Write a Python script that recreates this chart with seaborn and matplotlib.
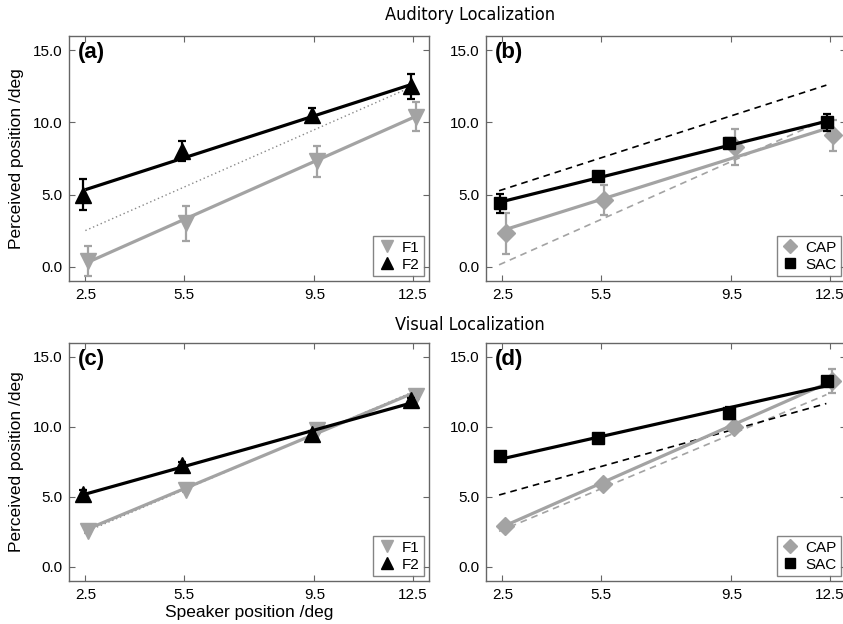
import numpy as np
import matplotlib
matplotlib.use("Agg")
import matplotlib.pyplot as plt
import seaborn as sns
from matplotlib.lines import Line2D

# Speaker positions (deg)
speaker = [2.5, 5.5, 9.5, 12.5]

# (a) Auditory localization, F1 / F2
aud_f1 = [0.4, 3.0, 7.3, 10.4]
aud_f1_err = [1.05, 1.2, 1.1, 1.0]
aud_f2 = [5.0, 8.0, 10.5, 12.5]
aud_f2_err = [1.05, 0.7, 0.5, 0.85]

# (b) Auditory localization, CAP / SAC
aud_cap = [2.3, 4.6, 8.3, 9.1]
aud_cap_err = [1.4, 1.05, 1.25, 1.05]
aud_sac = [4.4, 6.3, 8.6, 10.0]
aud_sac_err = [0.65, 0.25, 0.3, 0.6]

# (c) Visual localization, F1 / F2
vis_f1 = [2.6, 5.5, 9.8, 12.2]
vis_f1_err = [0.15, 0.15, 0.2, 0.2]
vis_f2 = [5.2, 7.3, 9.5, 11.9]
vis_f2_err = [0.3, 0.2, 0.2, 0.2]

# (d) Visual localization, CAP / SAC
vis_cap = [2.95, 5.9, 10.0, 13.3]
vis_cap_err = [0.2, 0.2, 0.3, 0.85]
vis_sac = [7.9, 9.25, 11.0, 13.3]
vis_sac_err = [0.2, 0.2, 0.4, 0.2]

x_ticks = [2.5, 5.5, 9.5, 12.5]
y_ticks = [0.0, 5.0, 10.0, 15.0]

GRAY = "#a3a3a3"
BLACK = "#000000"

sns.set_theme(style="ticks")
plt.rcParams["font.family"] = ["Liberation Sans", "DejaVu Sans"]
plt.rcParams["axes.edgecolor"] = "#666666"
plt.rcParams["axes.linewidth"] = 1.0
plt.rcParams["text.color"] = "black"
plt.rcParams["axes.labelcolor"] = "black"
plt.rcParams["xtick.labelcolor"] = "black"
plt.rcParams["ytick.labelcolor"] = "black"

fig = plt.figure(figsize=(8.43, 6.24), dpi=100)
W, H = 843, 624


def add_ax(left, top, right, bottom):
    return fig.add_axes([left / W, 1 - bottom / H, (right - left) / W, (bottom - top) / H])


ax_a = add_ax(69, 36, 429, 281)
ax_b = add_ax(486, 36, 846, 281)
ax_c = add_ax(69, 343, 429, 581)
ax_d = add_ax(486, 343, 846, 581)


def fit_line(y):
    return np.polyfit(speaker, y, 1)


def draw_series(ax, y, err, color, marker, ms, offset, z):
    xs = np.array(speaker)
    sns.regplot(x=xs, y=np.array(y), ax=ax, ci=None, scatter=False, truncate=True,
                color=color, line_kws=dict(lw=2.3, zorder=z, solid_capstyle="butt"))
    ax.errorbar(xs + offset, y, yerr=err, fmt=marker, color=color, ms=ms,
                mec=color, elinewidth=1.6, capsize=3, capthick=1.6, zorder=z + 1)


def draw_ref(ax, y, color):
    k, b = fit_line(y)
    xr = np.array([2.4, 12.4])
    sns.lineplot(x=xr, y=k * xr + b, ax=ax, color=color, lw=1.2,
                 linestyle=(0, (4, 3)), zorder=1)


def style(ax, label, handles):
    ax.set_xlim(2.0, 13.0)
    ax.set_ylim(-1.0, 16.0)
    ax.set_xticks(x_ticks)
    ax.set_xticklabels([f"{v:.1f}" for v in x_ticks])
    ax.set_yticks(y_ticks)
    ax.set_yticklabels([f"{v:.1f}" for v in y_ticks])
    ax.tick_params(direction="in", length=4, width=0.8, color="#666666",
                   top=True, right=True, labelsize=11, pad=5)
    for s in ax.spines.values():
        s.set_visible(True)
    ax.text(0.025, 0.975, label, transform=ax.transAxes, ha="left", va="top",
            fontsize=16, fontweight="bold")
    leg = ax.legend(handles=handles, loc="lower right", fontsize=11,
                    frameon=True, fancybox=False, borderaxespad=0.3,
                    handletextpad=0.4, borderpad=0.3, labelspacing=0.2,
                    handlelength=1.2)
    leg.get_frame().set_edgecolor("#666666")
    leg.get_frame().set_linewidth(1.0)


def h(marker, color, label, ms):
    return Line2D([], [], marker=marker, color=color, mec=color, ls="none", ms=ms, label=label)


f_handles = [h("v", GRAY, "F1", 9), h("^", BLACK, "F2", 9)]
c_handles = [h("D", GRAY, "CAP", 7), h("s", BLACK, "SAC", 7)]

# (a)
ax_a.plot([2.5, 12.5], [2.5, 12.5], color="#888888", lw=1.0, ls=(0, (1, 2)), zorder=1)
draw_series(ax_a, aud_f1, aud_f1_err, GRAY, "v", 11, 0.09, 2)
draw_series(ax_a, aud_f2, aud_f2_err, BLACK, "^", 11, -0.06, 4)
style(ax_a, "(a)", f_handles)
ax_a.set_ylabel("Perceived position /deg", fontsize=12.5, labelpad=6)

# (b)
draw_ref(ax_b, aud_f1, GRAY)
draw_ref(ax_b, aud_f2, BLACK)
draw_series(ax_b, aud_cap, aud_cap_err, GRAY, "D", 9, 0.1, 2)
draw_series(ax_b, aud_sac, aud_sac_err, BLACK, "s", 8, -0.08, 4)
style(ax_b, "(b)", c_handles)

# (c)
ax_c.plot([2.5, 12.5], [2.5, 12.5], color="#888888", lw=1.0, ls=(0, (1, 2)), zorder=1)
draw_series(ax_c, vis_f1, vis_f1_err, GRAY, "v", 11, 0.09, 2)
draw_series(ax_c, vis_f2, vis_f2_err, BLACK, "^", 11, -0.06, 4)
style(ax_c, "(c)", f_handles)
ax_c.set_ylabel("Perceived position /deg", fontsize=12.5, labelpad=6)
ax_c.set_xlabel("Speaker position /deg", fontsize=12.5, labelpad=2)

# (d)
draw_ref(ax_d, vis_f1, GRAY)
draw_ref(ax_d, vis_f2, BLACK)
draw_series(ax_d, vis_cap, vis_cap_err, GRAY, "D", 9, 0.07, 2)
draw_series(ax_d, vis_sac, vis_sac_err, BLACK, "s", 8, -0.08, 4)
style(ax_d, "(d)", c_handles)

for ax in (ax_b, ax_d):
    ax.set_ylabel("")

fig.text(470 / W, 1 - 15 / H, "Auditory Localization", ha="center", va="center",
         fontsize=13, family="DejaVu Sans", fontstretch="condensed")
fig.text(470 / W, 1 - 325 / H, "Visual Localization", ha="center", va="center",
         fontsize=13, family="DejaVu Sans", fontstretch="condensed")

fig.savefig("out.png", dpi=100)
